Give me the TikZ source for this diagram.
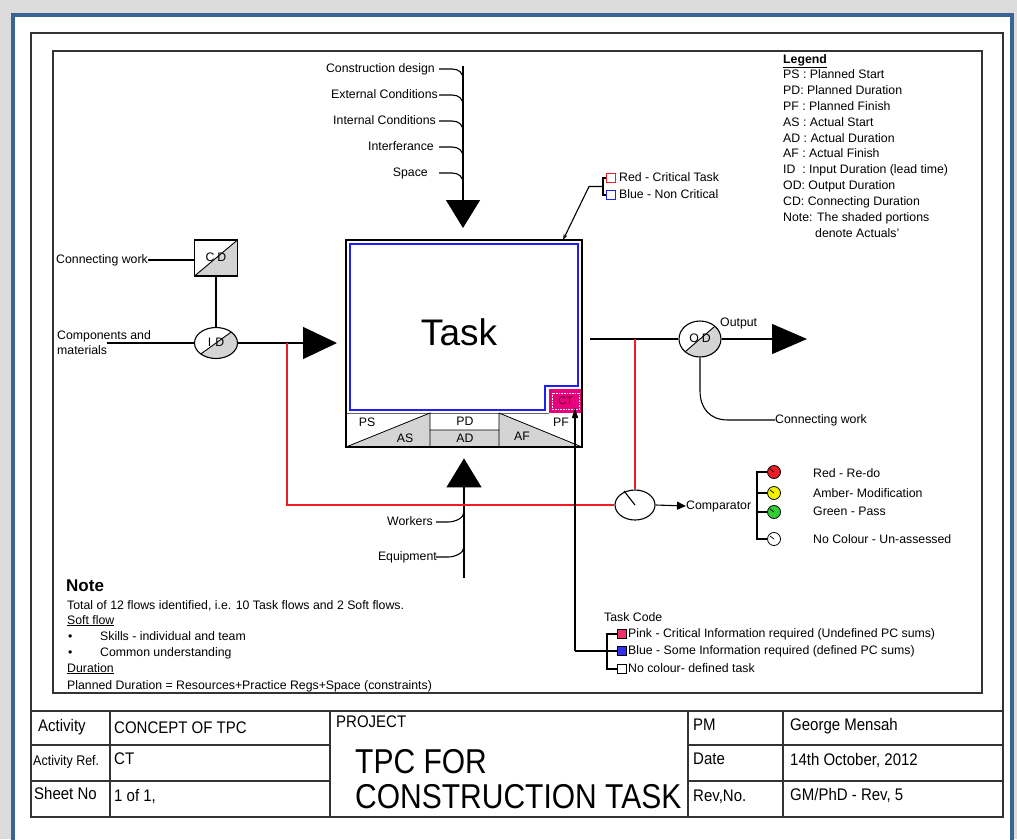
\documentclass[tikz,border=0pt]{standalone}
\usepackage{fontspec}
\setmainfont{Liberation Sans}
\usetikzlibrary{arrows.meta,shapes.geometric,calc}
\definecolor{framebl}{HTML}{3B6496}
\definecolor{bggray}{HTML}{DCDCDC}
\definecolor{ctpink}{HTML}{E8007C}
\definecolor{cellgr}{HTML}{D4D4D4}
\definecolor{taskbl}{HTML}{1F1FF5}
\definecolor{flowred}{HTML}{EE1C25}
\definecolor{ambery}{HTML}{F2F200}
\definecolor{passg}{HTML}{2FD02F}
\definecolor{ctred}{HTML}{5A0020}
\definecolor{sqpink}{HTML}{F0306A}
\definecolor{sqblue}{HTML}{3030F0}
\begin{document}
\begin{tikzpicture}[x=1pt,y=-1pt,
  lbl/.style={font=\fontsize{12.3}{14}\selectfont, inner sep=0pt, text height=8.6pt, text depth=2.4pt},
  tb/.style={font=\fontsize{15}{18}\selectfont, inner sep=0pt, text height=11pt, text depth=3pt, anchor=west},
  tbig/.style={font=\fontsize{30}{34}\selectfont, inner sep=0pt, text height=22pt, text depth=6pt, anchor=west},
  ln/.style={line width=1.1pt},
  frm/.style={line width=1.3pt, draw=black!80},
  halfgray/.style={path picture={\fill[cellgr] (path picture bounding box.south west) -- (path picture bounding box.north east) -- (path picture bounding box.south east) -- cycle;
     \draw[line width=0.9pt] (path picture bounding box.south west) -- (path picture bounding box.north east);}},
  lamp/.style={circle, draw, line width=0.8pt, minimum size=13pt, inner sep=0pt},
  sq/.style={draw, line width=0.8pt, minimum size=9pt, inner sep=0pt},
]
\useasboundingbox (0,0) rectangle (1017,839);
\clip (0,0) rectangle (1017,839);
% page background and frames
\fill[bggray] (0,0) rectangle (1017,839);
\draw[framebl, line width=4pt, fill=white] (13,15) rectangle (1012,870);
\draw[frm] (31,33) rectangle (1003,817);
\draw[frm] (53,51) rectangle (982,693);

% title block
\draw[frm] (31,711) -- (1003,711);
\draw[frm] (31,745) -- (330,745) (688,745) -- (1003,745);
\draw[frm] (31,781) -- (330,781) (688,781) -- (1003,781);
\draw[frm] (110,711) -- (110,817) (330,711) -- (330,817) (688,711) -- (688,817) (783,711) -- (783,817);
\node[tb] (tact) at (38,727) {\scalebox{1}[1.12]{Activity}};
\node[tb] (tactv) at (114,729) {\scalebox{1}[1.12]{CONCEPT OF TPC}};
\node[tb] (tproj) at (336,723) {\scalebox{1}[1.12]{PROJECT}};
\node[tb] (tpm) at (693,726) {\scalebox{1}[1.12]{PM}};
\node[tb] (tpmv) at (790,726) {\scalebox{1}[1.12]{George Mensah}};
\node[tb, font=\fontsize{12.5}{15}\selectfont] (tref) at (33,761) {\scalebox{1}[1.12]{Activity Ref.}};
\node[tb] (trefv) at (114,760) {\scalebox{1}[1.12]{CT}};
\node[tbig] (tbig1) at (355,765) {\scalebox{1}[1.15]{TPC FOR}};
\node[tbig] (tbig2) at (355,800) {\scalebox{1}[1.15]{CONSTRUCTION TASK}};
\node[tb] (tdate) at (693,760) {\scalebox{1}[1.12]{Date}};
\node[tb] (tdatev) at (790,761) {\scalebox{1}[1.12]{14th October, 2012}};
\node[tb] (tsheet) at (34,795) {\scalebox{1}[1.12]{Sheet No}};
\node[tb] (tsheetv) at (114,797) {\scalebox{1}[1.12]{1 of 1,}};
\node[tb] (trev) at (693,797) {\scalebox{1}[1.12]{Rev,No.}};
\node[tb] (trevv) at (790,796) {\scalebox{1}[1.12]{GM/PhD - Rev, 5}};

% task box
\node[minimum width=236pt, minimum height=207pt, inner sep=0pt, anchor=north west] (task) at (346,240) {};
\draw[taskbl, line width=2.3pt] (350,244) -- (578,244) -- (578,386) -- (545,386) -- (545,410) -- (350,410) -- cycle;
\node[font=\fontsize{37}{40}\selectfont, inner sep=0pt] (tasklbl) at (459,332) {Task};
\node[fill=ctpink, minimum width=33pt, minimum height=24pt, inner sep=0pt, anchor=north west, font=\fontsize{11}{12}\selectfont, text=ctred] (ct) at (549,389) {CT};
\draw[white, densely dotted, line width=0.6pt] ($(ct.north west)+(3,4)$) rectangle ($(ct.south east)+(-3,-4)$);
\fill[cellgr] (346,447) -- (430,413) -- (430,447) -- cycle;
\fill[cellgr] (430,430) rectangle (499,447);
\fill[cellgr] (499,413) -- (582,447) -- (499,447) -- cycle;
\draw[black!60, line width=0.8pt] (346,413) -- (549,413);
\draw[line width=0.8pt] (346,447) -- (430,413) -- (430,447) (499,413) -- (499,447) (430,430) -- (499,430) (499,413) -- (582,447);
\node[lbl] (ps) at (367,423) {PS};
\node[lbl] (as) at (405,439) {AS};
\node[lbl] (pd) at (465,422) {PD};
\node[lbl] (ad) at (465,439) {AD};
\node[lbl] (pf) at (561,423) {PF};
\node[lbl] (af) at (522,437) {AF};
\draw[line width=2pt] (task.north west) rectangle (task.south east);

% top feed
\coordinate (feedtop) at (463,66);
\coordinate (fs) at (439,0);
\foreach \t/\y/\x [count=\i] in {Construction design/69/435, External Conditions/95/438, Internal Conditions/121/436, Interferance/147/434, Space/173/428}{
  \node[lbl, anchor=east] (fl\i) at (\x,\y) {\t};
  \coordinate (fj\i) at (463,\y+10);
  \draw[ln] (fl\i.east -| fs) -- ++(13,0) .. controls +(7,0) and +(0,-6) .. (fj\i);
}
\draw[line width=1.3pt, -{Triangle[width=34pt,length=28pt]}, shorten >=12pt] (feedtop) -- (feedtop |- task.north);

% bottom feed
\coordinate (feedbot) at (464,578);
\coordinate (bs) at (436,0);
\foreach \t/\y/\x [count=\i] in {Workers/522/433, Equipment/557/437}{
  \node[lbl, anchor=east] (bl\i) at (\x,\y) {\t};
  \coordinate (bj\i) at (464,\y-10);
  \draw[ln] (bl\i.east -| bs) -- ++(12,0) .. controls +(7,0) and +(0,6) .. (bj\i);
}
\draw[line width=1.3pt, -{Triangle[width=35pt,length=29pt]}, shorten >=11pt] (feedbot) -- (feedbot |- task.south);

% left side
\node[draw, ln, minimum width=43pt, minimum height=36pt, inner sep=0pt, halfgray, lbl] (cd) at (216,258) {C\hspace{3pt}D};
\node[ellipse, draw, ln, minimum width=43pt, minimum height=31pt, inner sep=0pt, halfgray, lbl] (id) at (216,343) {I\hspace{4pt}D};
\node[lbl, anchor=west] (cwl) at (56,260) {Connecting work};
\node[lbl, anchor=west] (comp1) at (57,336) {Components and};
\node[lbl, anchor=west] (comp2) at (57,351) {materials};
\coordinate (compend) at (107,343);
\draw[ln] (cwl.east) -- (cwl.east -| cd.west);
\draw[ln] (cd.south) -- (id.north);
\draw[ln] (compend) -- (id.west);
\draw[line width=1.3pt, -{Triangle[width=32pt,length=34pt]}, shorten >=9pt] (id.east) -- (id.east -| task.west);

% output side
\coordinate (outstart) at (590,339);
\node[ellipse, draw, ln, minimum width=42pt, minimum height=36pt, inner sep=0pt, halfgray, lbl] (od) at (700,339) {O\hspace{3pt}D};
\coordinate (outend) at (807,339);
\draw[ln] (outstart) -- (od.west);
\draw[line width=1.3pt, -{Triangle[width=30pt,length=35pt]}] (od.east) -- (outend);
\node[lbl, anchor=west] (outlbl) at (720,323) {Output};
\node[lbl, anchor=west] (cwr) at (775,420) {Connecting work};
\draw[ln] (od.south) -- ($(od.south)+(0,33)$) .. controls +(0,18) and +(-18,0) .. ($(od.south |- cwr.west)+(28,0)$) -- (cwr.west);

% comparator
\node[ellipse, draw, ln, minimum width=40pt, minimum height=30pt, inner sep=0pt] (cmp) at (635,505) {};
\draw[ln] (cmp.center) -- ++(-11,-14);
\coordinate (r1) at (287,343);
\coordinate (r2) at (cmp.north |- outstart);
\draw[flowred, ln] (r1) |- (cmp.west);
\draw[flowred, ln] (r2) -- (cmp.north);
\node[lbl, anchor=west] (cmptxt) at (686,506) {Comparator};
\draw[ln, -{Triangle[width=8pt,length=9pt]}] (cmp.east) -- (cmptxt.west);
\coordinate (brk) at (757,0);
\node[lamp, fill=flowred] (c1) at (774,472) {};
\node[lamp, fill=ambery] (c2) at (774,493) {};
\node[lamp, fill=passg] (c3) at (774,512) {};
\node[lamp, fill=white] (c4) at (774,539) {};
\foreach \c in {c1,c2,c3,c4}{\draw[line width=0.7pt] (\c.center) -- ++(-4,-3);}
\draw[ln] (c1.west) -- (c1.west -| brk) -- (c4.west -| brk) -- (c4.west);
\draw[ln] (c2.west) -- (c2.west -| brk) (c3.west) -- (c3.west -| brk);
\node[lbl, anchor=west] (l1) at (813,474) {Red - Re-do};
\node[lbl, anchor=west] (l2) at (813,494) {Amber- Modification};
\node[lbl, anchor=west] (l3) at (813,512) {Green - Pass};
\node[lbl, anchor=west] (l4) at (813,540) {No Colour - Un-assessed};

% red/blue task legend
\node[sq, draw=flowred, fill=white] (sqr) at (611,178) {};
\node[sq, draw=taskbl, fill=white] (sqb) at (611,195) {};
\coordinate (rbk) at (603,0);
\draw[ln] (sqr.west) -- (sqr.west -| rbk) -- (sqb.west -| rbk) -- (sqb.west);
\coordinate (rbmid) at (603,186.5);
\coordinate (tasktr) at (563,240);
\draw[ln, -{Stealth[length=6pt,width=4pt]}] (rbmid) -- (589,186.5) -- (tasktr);
\node[lbl, anchor=west] (rl) at (619,178) {Red - Critical Task};
\node[lbl, anchor=west] (bl) at (619,195) {Blue - Non Critical};

% task code
\node[lbl, anchor=west] (tc) at (604,618) {Task Code};
\node[sq, fill=sqpink] (tq1) at (622,634) {};
\node[sq, fill=sqblue] (tq2) at (622,651) {};
\node[sq, fill=white] (tq3) at (622,669) {};
\coordinate (tbk) at (607,0);
\draw[ln] (tq1.west) -- (tq1.west -| tbk) -- (tq3.west -| tbk) -- (tq3.west);
\coordinate (ctbase) at (575,651);
\draw[ln] (tq2.west) -- (ctbase);
\draw[ln, -{Triangle[width=6pt,length=10pt]}] (ctbase) -- (575,408);
\node[lbl, anchor=west] (tc1) at (628,634) {Pink - Critical Information required (Undefined PC sums)};
\node[lbl, anchor=west] (tc2) at (628,651) {Blue - Some Information required (defined PC sums)};
\node[lbl, anchor=west] (tc3) at (628,669) {No colour- defined task};

% legend
\node[lbl, anchor=west, font=\bfseries\fontsize{12.3}{14}\selectfont] (leg0) at (783,60) {\underline{Legend}};
\foreach \t [count=\i] in {PS : Planned Start, PD: Planned Duration, PF : Planned Finish, AS : Actual Start, AD : Actual Duration, AF : Actual Finish, ID\ \ : Input Duration (lead time), OD: Output Duration, CD: Connecting Duration, Note: The shaded portions}{
  \node[lbl, anchor=west] (leg\i) at (783,60+15.8*\i) {\t};
}
\node[lbl, anchor=west] (leg11) at (815,234) {denote Actuals'};

% note
\node[anchor=west, inner sep=0pt, font=\bfseries\fontsize{17}{20}\selectfont] (notehd) at (66,586) {Note};
\node[lbl, anchor=west] (n1) at (67,606) {Total of 12 flows identified, i.e. 10 Task flows and 2 Soft flows.};
\node[lbl, anchor=west] (n2) at (67,621) {\underline{Soft flow}};
\node[lbl, anchor=west] (n3b) at (68,637) {•};
\node[lbl, anchor=west] (n3) at (100,637) {Skills - individual and team};
\node[lbl, anchor=west] (n4b) at (68,653) {•};
\node[lbl, anchor=west] (n4) at (100,653) {Common understanding};
\node[lbl, anchor=west] (n5) at (67,669) {\underline{Duration}};
\node[lbl, anchor=west] (n6) at (67,686) {Planned Duration = Resources+Practice Regs+Space (constraints)};
\end{tikzpicture}
\end{document}
